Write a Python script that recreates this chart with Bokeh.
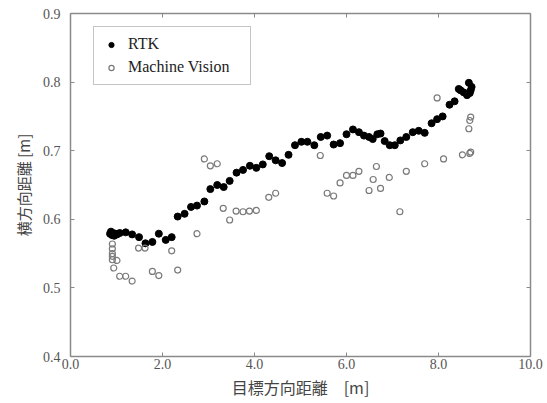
from bokeh.plotting import figure
from bokeh.models import LinearAxis, FixedTicker, NumeralTickFormatter, Range1d
from bokeh.embed import file_html
from bokeh.resources import INLINE

# Lateral offset measured by RTK positioning, against distance toward the target
rtk_x = [0.86, 0.88, 0.90, 0.92, 0.95, 0.98, 1.01, 1.07, 1.20, 1.34, 1.49, 1.63, 1.78, 1.92,
         2.07, 2.20, 2.33, 2.48, 2.62, 2.75, 2.91, 3.04, 3.19, 3.33, 3.46, 3.61, 3.75, 3.90,
         4.04, 4.18, 4.32, 4.46, 4.60, 4.74, 4.88, 5.02, 5.15, 5.30, 5.44, 5.58, 5.72, 5.86,
         6.00, 6.14, 6.27, 6.38, 6.49, 6.57, 6.67, 6.74, 6.83, 6.94, 7.05, 7.17, 7.30, 7.44,
         7.57, 7.70, 7.85, 7.97, 8.09, 8.24, 8.35, 8.44, 8.48, 8.55, 8.62, 8.66, 8.70, 8.72,
         8.68]
rtk_y = [0.579, 0.582, 0.577, 0.580, 0.576, 0.579, 0.578, 0.580, 0.581, 0.578, 0.574, 0.565,
         0.567, 0.579, 0.570, 0.574, 0.604, 0.608, 0.618, 0.620, 0.626, 0.644, 0.650, 0.647,
         0.656, 0.668, 0.672, 0.678, 0.675, 0.680, 0.692, 0.686, 0.682, 0.694, 0.708, 0.713,
         0.713, 0.708, 0.720, 0.722, 0.709, 0.711, 0.724, 0.731, 0.727, 0.722, 0.720, 0.717,
         0.724, 0.725, 0.714, 0.708, 0.708, 0.715, 0.720, 0.727, 0.729, 0.726, 0.740, 0.746,
         0.750, 0.767, 0.772, 0.790, 0.788, 0.785, 0.781, 0.799, 0.788, 0.793, 0.784]

# Lateral offset estimated by machine vision
mv_x = [0.91, 0.91, 0.91, 0.91, 0.91, 0.94, 1.01, 1.07, 1.20, 1.34, 1.48, 1.62, 1.78, 1.92,
        2.20, 2.33, 2.75, 2.91, 3.04, 3.19, 3.32, 3.46, 3.60, 3.75, 3.89, 4.04, 4.31, 4.46,
        5.43, 5.58, 5.72, 5.86, 6.00, 6.14, 6.27, 6.49, 6.58, 6.65, 6.74, 6.93, 7.16, 7.30,
        7.70, 7.97, 8.11, 8.52, 8.68, 8.70, 8.70, 8.68, 8.66]
mv_y = [0.564, 0.557, 0.550, 0.546, 0.541, 0.529, 0.540, 0.517, 0.517, 0.510, 0.558, 0.558,
        0.524, 0.518, 0.554, 0.526, 0.579, 0.688, 0.678, 0.681, 0.616, 0.599, 0.612, 0.611,
        0.612, 0.613, 0.632, 0.638, 0.693, 0.638, 0.634, 0.653, 0.664, 0.664, 0.670, 0.642,
        0.658, 0.677, 0.645, 0.661, 0.611, 0.670, 0.681, 0.777, 0.688, 0.694, 0.696, 0.698,
        0.749, 0.744, 0.732]

x_ticks = [0, 2, 4, 6, 8, 10]
y_ticks = [0.4, 0.5, 0.6, 0.7, 0.8, 0.9]
series_names = ["RTK", "Machine Vision"]
x_title = "目標方向距離　[m]"
y_title = "横方向距離 [m]"

SERIF = "Liberation Serif"
CJK = "Noto Sans CJK JP"
AXIS_GRAY = "#8a8a8a"
TEXT_GRAY = "#555555"
MV_GRAY = "#7a7a7a"

p = figure(width=547, height=403, output_backend="svg", toolbar_location=None,
           x_range=Range1d(0, 10), y_range=Range1d(0.4, 0.9),
           x_axis_location=None, y_axis_location=None)
p.min_border_left = 70
p.min_border_right = 17
p.min_border_top = 13
p.min_border_bottom = 47
p.xgrid.visible = False
p.ygrid.visible = False
p.outline_line_color = None
p.background_fill_color = "white"
p.border_fill_color = "white"


def style_axis(ax, ticks, show_labels):
    ax.ticker = FixedTicker(ticks=ticks)
    ax.formatter = NumeralTickFormatter(format="0.0")
    ax.axis_line_color = AXIS_GRAY
    ax.axis_line_width = 1.5
    ax.major_tick_line_color = AXIS_GRAY
    ax.major_tick_line_width = 1
    ax.major_tick_in = 4
    ax.major_tick_out = 0
    ax.minor_tick_line_color = None
    ax.major_label_text_font = SERIF
    if show_labels:
        ax.major_label_text_color = TEXT_GRAY
        ax.major_label_text_font_size = "14px"
    else:
        # mirrored frame axes: ticks only
        ax.major_label_text_color = None
        ax.major_label_text_font_size = "1px"
    ax.axis_label_text_font = CJK
    ax.axis_label_text_font_style = "normal"
    ax.axis_label_text_color = "#444444"
    ax.axis_label_text_font_size = "15px"


xb = LinearAxis(axis_label=x_title)
style_axis(xb, x_ticks, True)
xb.axis_label_text_font_size = "16px"
xb.major_label_standoff = 2
xb.axis_label_standoff = 3
p.add_layout(xb, "below")

yl = LinearAxis(axis_label=y_title)
style_axis(yl, y_ticks, True)
yl.major_label_standoff = 10
yl.axis_label_standoff = 6
p.add_layout(yl, "left")

xt = LinearAxis()
style_axis(xt, x_ticks, False)
xt.major_label_standoff = 0
p.add_layout(xt, "above")

yr = LinearAxis()
style_axis(yr, y_ticks, False)
yr.major_label_standoff = 0
p.add_layout(yr, "right")

p.scatter(rtk_x, rtk_y, marker="circle", size=7, fill_color="black",
          line_color="black", legend_label=series_names[0])
p.scatter(mv_x, mv_y, marker="circle", size=6, fill_color=None,
          line_color=MV_GRAY, line_width=1.2, legend_label=series_names[1])

lg = p.legend[0]
lg.location = (23, 271)
lg.padding = 7
lg.spacing = 3
# the swatch marker scales with the glyph box, so a short box keeps it small
lg.glyph_width = 20
lg.glyph_height = 13
lg.label_height = 20
lg.label_standoff = 7
lg.label_width = 115
lg.label_text_font = SERIF
lg.label_text_font_size = "16px"
lg.label_text_color = "#222222"
lg.border_line_color = AXIS_GRAY
lg.border_line_width = 1
lg.background_fill_color = "white"
lg.background_fill_alpha = 1

open("out.html", "w").write(file_html(p, INLINE))
